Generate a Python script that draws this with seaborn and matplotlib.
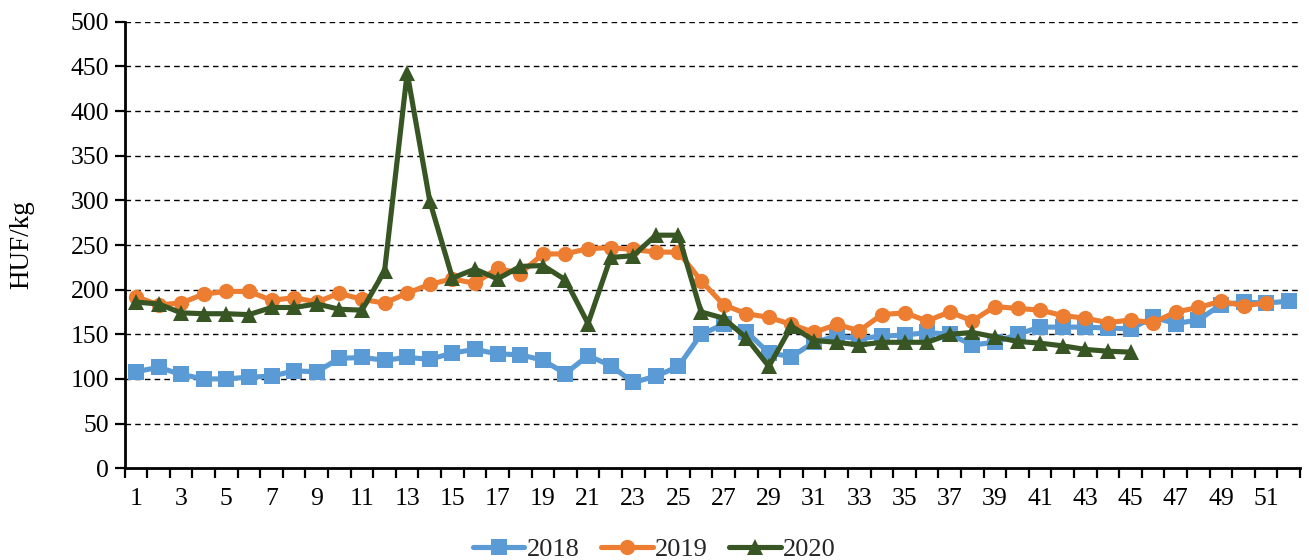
import numpy as np
import pandas as pd
import matplotlib
matplotlib.use("Agg")
import matplotlib.pyplot as plt
import seaborn as sns

weeks_2018 = list(range(1, 53))
values_2018 = [108, 113, 105, 100, 100, 102, 103, 109, 108, 123,
               124, 121, 124, 122, 129, 133, 128, 127, 121, 106,
               126, 115, 96, 103, 114, 150, 161, 153, 129, 125,
               141, 148, 145, 148, 149, 152, 150, 138, 141, 150,
               158, 158, 158, 157, 156, 169, 162, 166, 183, 186,
               185, 187]

weeks_2019 = list(range(1, 52))
values_2019 = [192, 183, 185, 195, 198, 198, 188, 191, 186, 196,
               189, 185, 196, 206, 212, 207, 224, 218, 240, 240,
               246, 247, 245, 242, 242, 210, 183, 173, 169, 161,
               152, 161, 154, 172, 174, 165, 175, 165, 181, 179,
               177, 171, 168, 163, 166, 163, 175, 180, 187, 182,
               185]

weeks_2020 = list(range(1, 46))
values_2020 = [186, 184, 174, 173, 173, 172, 180, 180, 184, 178,
               177, 221, 443, 299, 213, 223, 212, 226, 227, 211,
               162, 236, 238, 261, 261, 175, 168, 146, 114, 159,
               143, 141, 138, 141, 141, 141, 150, 152, 147, 142,
               140, 137, 133, 131, 130]

series_names = ["2018", "2019", "2020"]
y_ticks = list(range(0, 501, 50))
x_tick_labels = [str(i) for i in range(1, 52, 2)]
y_label = "HUF/kg"

sns.set_theme(style="white")
plt.rcParams["font.family"] = ["Liberation Serif", "DejaVu Serif"]

fig = plt.figure(figsize=(13.09, 5.60), dpi=100)
ax = fig.add_axes([0.0952, 0.164, 0.898, 0.797])

styles = {
    "2018": dict(color="#5B9BD5", marker="s", ms=11),
    "2019": dict(color="#ED7D31", marker="o", ms=11),
    "2020": dict(color="#375623", marker="^", ms=12),
}
data = {
    "2018": (weeks_2018, values_2018),
    "2019": (weeks_2019, values_2019),
    "2020": (weeks_2020, values_2020),
}

for i, name in enumerate(series_names):
    w, v = data[name]
    df = pd.DataFrame({"week": w, "value": v})
    st = styles[name]
    sns.lineplot(data=df, x="week", y="value", ax=ax, color=st["color"],
                 marker=st["marker"], markersize=st["ms"],
                 markeredgecolor=st["color"], markeredgewidth=0,
                 linewidth=3.7, label=name, zorder=3 + i,
                 solid_capstyle="round", solid_joinstyle="round")

ax.set_xlim(0.5, 52.5)
ax.set_ylim(0, 500)
ax.set_yticks(y_ticks)
ax.set_yticklabels([str(t) for t in y_ticks])
ax.set_xticks(list(range(1, 52, 2)))
ax.set_xticklabels(x_tick_labels)
ax.set_xticks(np.arange(0.5, 53.0, 1.0), minor=True)
ax.tick_params(axis="x", which="major", length=0, pad=14, labelsize=18.5, colors="black")
ax.tick_params(axis="x", which="minor", length=7, width=1.6, direction="out", color="black", bottom=True)
ax.tick_params(axis="y", which="major", length=7, width=1.6, direction="out", pad=4, labelsize=18.5, colors="black", left=True)

for yv in y_ticks[1:]:
    ax.axhline(yv, color="black", linestyle=(0, (4, 3)), linewidth=1.0, zorder=1)

for s in ["top", "right"]:
    ax.spines[s].set_visible(False)
for s in ["left", "bottom"]:
    ax.spines[s].set_color("black")
    ax.spines[s].set_linewidth(2.0)

ax.set_xlabel("")
ax.set_ylabel(y_label, fontsize=19.5, color="black", labelpad=26)

handles, labels = ax.get_legend_handles_labels()
ax.get_legend().remove()
fig.legend(handles, labels, loc="lower center", bbox_to_anchor=(0.5, -0.045), ncol=3,
           frameon=False, fontsize=19, handlelength=1.95, handletextpad=0.1,
           columnspacing=0.8)

fig.savefig("out.png", dpi=100, facecolor="white")
